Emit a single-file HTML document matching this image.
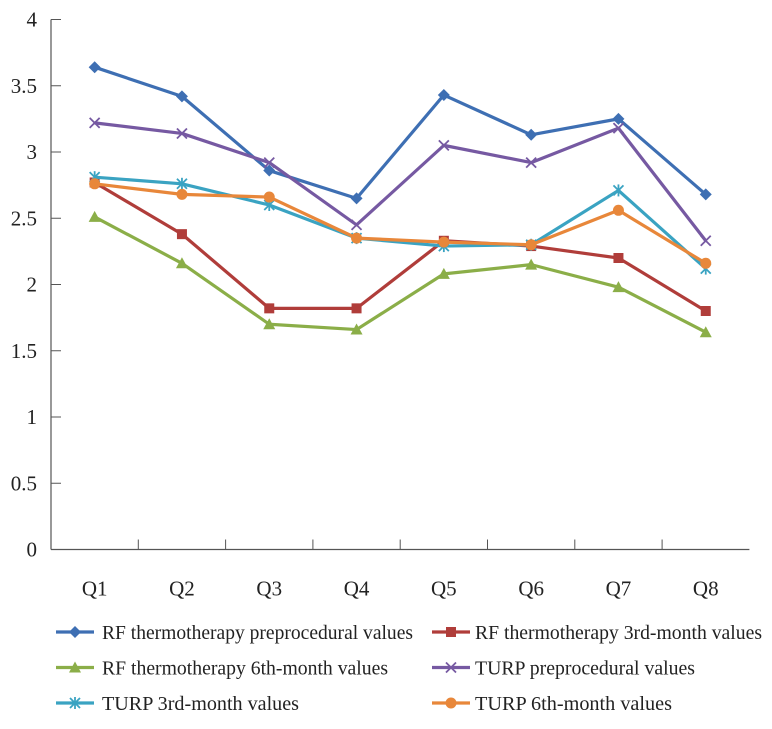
<!DOCTYPE html>
<html><head><meta charset="utf-8"><style>
body{margin:0;background:#fff}
svg text{font-family:"Liberation Serif",serif;fill:#222}
</style></head><body>
<svg id="c" width="772" height="724"></svg>
<script>
const categories=["Q1","Q2","Q3","Q4","Q5","Q6","Q7","Q8"];
const yTicks=[0,0.5,1,1.5,2,2.5,3,3.5,4];
const rfPre=[3.64,3.42,2.86,2.65,3.43,3.13,3.25,2.68];
const rf3=[2.77,2.38,1.82,1.82,2.33,2.29,2.20,1.80];
const rf6=[2.51,2.16,1.70,1.66,2.08,2.15,1.98,1.64];
const turpPre=[3.22,3.14,2.92,2.45,3.05,2.92,3.18,2.33];
const turp3=[2.81,2.76,2.60,2.35,2.29,2.30,2.71,2.12];
const turp6=[2.76,2.68,2.66,2.35,2.32,2.30,2.56,2.16];
const seriesNames=["RF thermotherapy preprocedural values","RF thermotherapy 3rd-month values","RF thermotherapy 6th-month values","TURP  preprocedural values","TURP  3rd-month values","TURP  6th-month values"];
const svg=document.getElementById('c');const NS='http://www.w3.org/2000/svg';
function el(t,a,p){const e=document.createElementNS(NS,t);for(const k in a)e.setAttribute(k,a[k]);(p||svg).appendChild(e);return e;}
const X0=51,BW=87.3,Y0=549.5,Y4=19.5;
const x=i=>X0+BW*(i+0.5);const y=v=>Y0-(v/4)*(Y0-Y4);
let e=el('line',{x1:X0,y1:Y4,x2:X0,y2:Y0,stroke:'#555','stroke-width':1.2});

e=el('line',{x1:X0,y1:Y0,x2:X0+BW*8,y2:Y0,stroke:'#555','stroke-width':1.2});

yTicks.forEach(v=>{el('line',{x1:X0,y1:y(v),x2:X0+10,y2:y(v),stroke:'#555'});
const t=el('text',{x:37,y:y(v)+7,'text-anchor':'end','font-size':21});t.textContent=v;
});
categories.forEach((c,i)=>{if(i>0)el('line',{x1:X0+BW*i,y1:Y0,x2:X0+BW*i,y2:Y0-10,stroke:'#555'});
const t=el('text',{x:x(i),y:Y0+46,'text-anchor':'middle','font-size':21});t.textContent=c;
});
const colors=['#3e6fb3','#b03d3a','#8bae48','#7659a2','#3aa3c2','#e8873a'];
const markers=['diamond','square','triangle','x','star','circle'];
function marker(g,m,cx,cy,col){
 if(m=='diamond')el('polygon',{points:`${cx},${cy-6} ${cx+6},${cy} ${cx},${cy+6} ${cx-6},${cy}`,fill:col},g);
 else if(m=='square')el('rect',{x:cx-5,y:cy-5,width:10,height:10,fill:col},g);
 else if(m=='triangle')el('polygon',{points:`${cx},${cy-6} ${cx+6},${cy+5} ${cx-6},${cy+5}`,fill:col},g);
 else if(m=='circle')el('circle',{cx,cy,r:5.5,fill:col},g);
 else{el('path',{d:`M${cx-5} ${cy-5}L${cx+5} ${cy+5}M${cx-5} ${cy+5}L${cx+5} ${cy-5}`,stroke:col,'stroke-width':1.8},g);
  if(m=='star')el('path',{d:`M${cx} ${cy-6}L${cx} ${cy+6}`,stroke:col,'stroke-width':1.8},g);}
}
const data=[rfPre,rf3,rf6,turpPre,turp3,turp6];
const names=['series-rf-pre','series-rf-3rd','series-rf-6th','series-turp-pre','series-turp-3rd','series-turp-6th'];
data.forEach((d,s)=>{const g=el('g',{});

el('polyline',{points:d.map((v,i)=>x(i)+','+y(v)).join(' '),fill:'none',stroke:colors[s],'stroke-width':3.2,'stroke-linejoin':'round'},g);
d.forEach((v,i)=>marker(g,markers[s],x(i),y(v),colors[s]));});
const legendW=[311,287,286,220,197,197];
seriesNames.forEach((n,s)=>{const col=s%2,row=Math.floor(s/2);
const lx=col?432:56,ly=632+row*35.5;const g=el('g',{});

el('line',{x1:lx,y1:ly,x2:lx+38,y2:ly,stroke:colors[s],'stroke-width':3.2},g);
marker(g,markers[s],lx+19,ly,colors[s]);
const t=el('text',{x:col?475:102,y:ly+7,'font-size':20,textLength:legendW[s],lengthAdjust:'spacingAndGlyphs'},g);t.textContent=n;});
</script>
</body></html>
